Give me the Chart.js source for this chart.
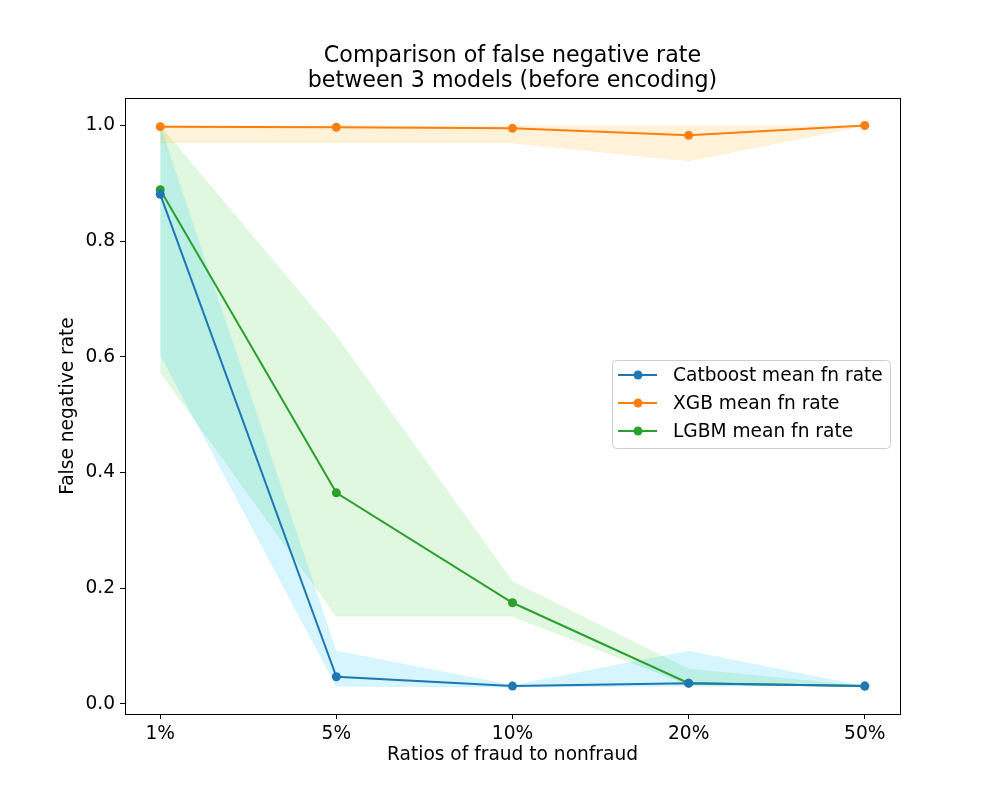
<!DOCTYPE html>
<html>
<head>
<meta charset="utf-8">
<script src="https://cdn.jsdelivr.net/npm/chart.js@4/dist/chart.umd.min.js"></script>
<style>
  html, body { margin: 0; padding: 0; background: #fff; }
  #wrap { width: 1000px; height: 800px; position: relative; }
</style>
</head>
<body>
<div id="wrap"><canvas id="fn-chart"></canvas></div>
<script>
// False negative rate per model

const ratios = ["1%", "5%", "10%", "20%", "50%"];
const yTicks = [0.0, 0.2, 0.4, 0.6, 0.8, 1.0];

const catboostMean = [0.881, 0.047, 0.031, 0.036, 0.031];
const catboostUpper = [1.0, 0.092, 0.033, 0.092, 0.031];
const catboostLower = [0.605, 0.031, 0.029, 0.031, 0.031];

const xgbMean = [0.998, 0.997, 0.995, 0.983, 1.0];
const xgbUpper = [1.0, 1.0, 1.0, 1.0, 1.0];
const xgbLower = [0.97, 0.97, 0.97, 0.939, 1.0];

const lgbmMean = [0.889, 0.365, 0.175, 0.036, 0.031];
const lgbmUpper = [1.0, 0.637, 0.212, 0.061, 0.031];
const lgbmLower = [0.574, 0.152, 0.152, 0.033, 0.031];

const FONT = "'DejaVu Sans', sans-serif";
const TEXT_SIZE = 18.6;

function pts(values) {
  return values.map((v, i) => ({ x: i, y: v }));
}

function band(upper, lower, fillColor, edgeColor) {
  return [
    {
      label: "_upper",
      data: pts(upper),
      borderWidth: 0,
      pointRadius: 0,
      fill: false,
      order: 2,
    },
    {
      label: "_lower",
      data: pts(lower),
      borderWidth: 1,
      borderColor: edgeColor,
      pointRadius: 0,
      backgroundColor: fillColor,
      fill: "-1",
      order: 2,
    },
  ];
}

function meanLine(label, values, color) {
  return {
    label: label,
    data: pts(values),
    borderColor: color,
    backgroundColor: color,
    borderWidth: 2,
    pointRadius: 4.5,
    pointBorderWidth: 0,
    pointBackgroundColor: color,
    fill: false,
    order: 0,
  };
}

const lines = [
  meanLine("Catboost mean fn rate", catboostMean, "#1f77b4"),
  meanLine("XGB mean fn rate", xgbMean, "#ff7f0e"),
  meanLine("LGBM mean fn rate", lgbmMean, "#2ca02c"),
];

const datasets = [
  ...band(catboostUpper, catboostLower, "rgba(0,191,255,0.16)", "rgba(0,191,255,0.10)"),
  ...band(xgbUpper, xgbLower, "rgba(255,165,0,0.15)", "rgba(255,165,0,0.10)"),
  ...band(lgbmUpper, lgbmLower, "rgba(50,205,50,0.15)", "rgba(50,205,50,0.10)"),
  ...lines,
];

// title, frame and legend drawn the matplotlib way
const decorPlugin = {
  id: "decor",
  afterDraw(chart) {
    const { ctx, chartArea: a } = chart;
    ctx.save();

    ctx.strokeStyle = "#000";
    ctx.lineWidth = 1;
    ctx.strokeRect(a.left + 0.5, a.top + 0.5, a.right - a.left, a.bottom - a.top);

    ctx.fillStyle = "#000";
    ctx.font = "22.2px " + FONT;
    ctx.textAlign = "center";
    ctx.textBaseline = "middle";
    const cx = (a.left + a.right) / 2;
    ctx.fillText("Comparison of false negative rate", cx, 56);
    ctx.fillText("between 3 models (before encoding)", cx, 81);

    // legend box
    const bx = 612.5, by = 360.5, bw = 278, bh = 88;
    ctx.beginPath();
    ctx.roundRect(bx, by, bw, bh, 4);
    ctx.fillStyle = "rgba(255,255,255,0.8)";
    ctx.fill();
    ctx.strokeStyle = "#cccccc";
    ctx.stroke();

    ctx.font = TEXT_SIZE + "px " + FONT;
    ctx.textAlign = "left";
    lines.forEach((ds, i) => {
      const y = 375 + i * 28;
      ctx.strokeStyle = ds.borderColor;
      ctx.lineWidth = 2;
      ctx.beginPath();
      ctx.moveTo(618, y);
      ctx.lineTo(657, y);
      ctx.stroke();
      ctx.fillStyle = ds.borderColor;
      ctx.beginPath();
      ctx.arc(638, y, 4.5, 0, Math.PI * 2);
      ctx.fill();
      ctx.fillStyle = "#000";
      ctx.fillText(ds.label, 673, y + 1);
    });

    ctx.restore();
  },
};

new Chart(document.getElementById("fn-chart"), {
  type: "line",
  data: { datasets },
  plugins: [decorPlugin],
  options: {
    responsive: true,
    maintainAspectRatio: false,
    animation: false,
    layout: { padding: { top: 98, right: 100, left: 0, bottom: 0 } },
    plugins: {
      legend: { display: false },
      tooltip: { enabled: false },
      title: { display: false },
    },
    scales: {
      x: {
        type: "linear",
        min: -0.2,
        max: 4.2,
        afterBuildTicks: (scale) => {
          scale.ticks = ratios.map((_, i) => ({ value: i }));
        },
        afterFit: (scale) => {
          scale.height = 86;
        },
        ticks: {
          callback: (v) => ratios[v],
          color: "#000",
          font: { family: FONT, size: TEXT_SIZE },
          padding: 4,
          maxRotation: 0,
        },
        grid: { drawOnChartArea: false, tickLength: 5, color: "#000", tickWidth: 1 },
        border: { color: "#000", width: 1 },
        title: {
          display: true,
          text: "Ratios of fraud to nonfraud",
          color: "#000",
          font: { family: FONT, size: TEXT_SIZE },
          padding: { top: 0, bottom: 34 },
        },
      },
      y: {
        min: -0.0173,
        max: 1.0475,
        afterBuildTicks: (scale) => {
          scale.ticks = yTicks.map((v) => ({ value: v }));
        },
        afterFit: (scale) => {
          scale.width = 125;
        },
        ticks: {
          callback: (v) => v.toFixed(1),
          color: "#000",
          font: { family: FONT, size: TEXT_SIZE },
          padding: 5,
        },
        grid: { drawOnChartArea: false, tickLength: 5, color: "#000", tickWidth: 1 },
        border: { color: "#000", width: 1 },
        title: {
          display: true,
          text: "False negative rate",
          color: "#000",
          font: { family: FONT, size: TEXT_SIZE },
          padding: { top: 57, bottom: 0 },
        },
      },
    },
  },
});
</script>
</body>
</html>
